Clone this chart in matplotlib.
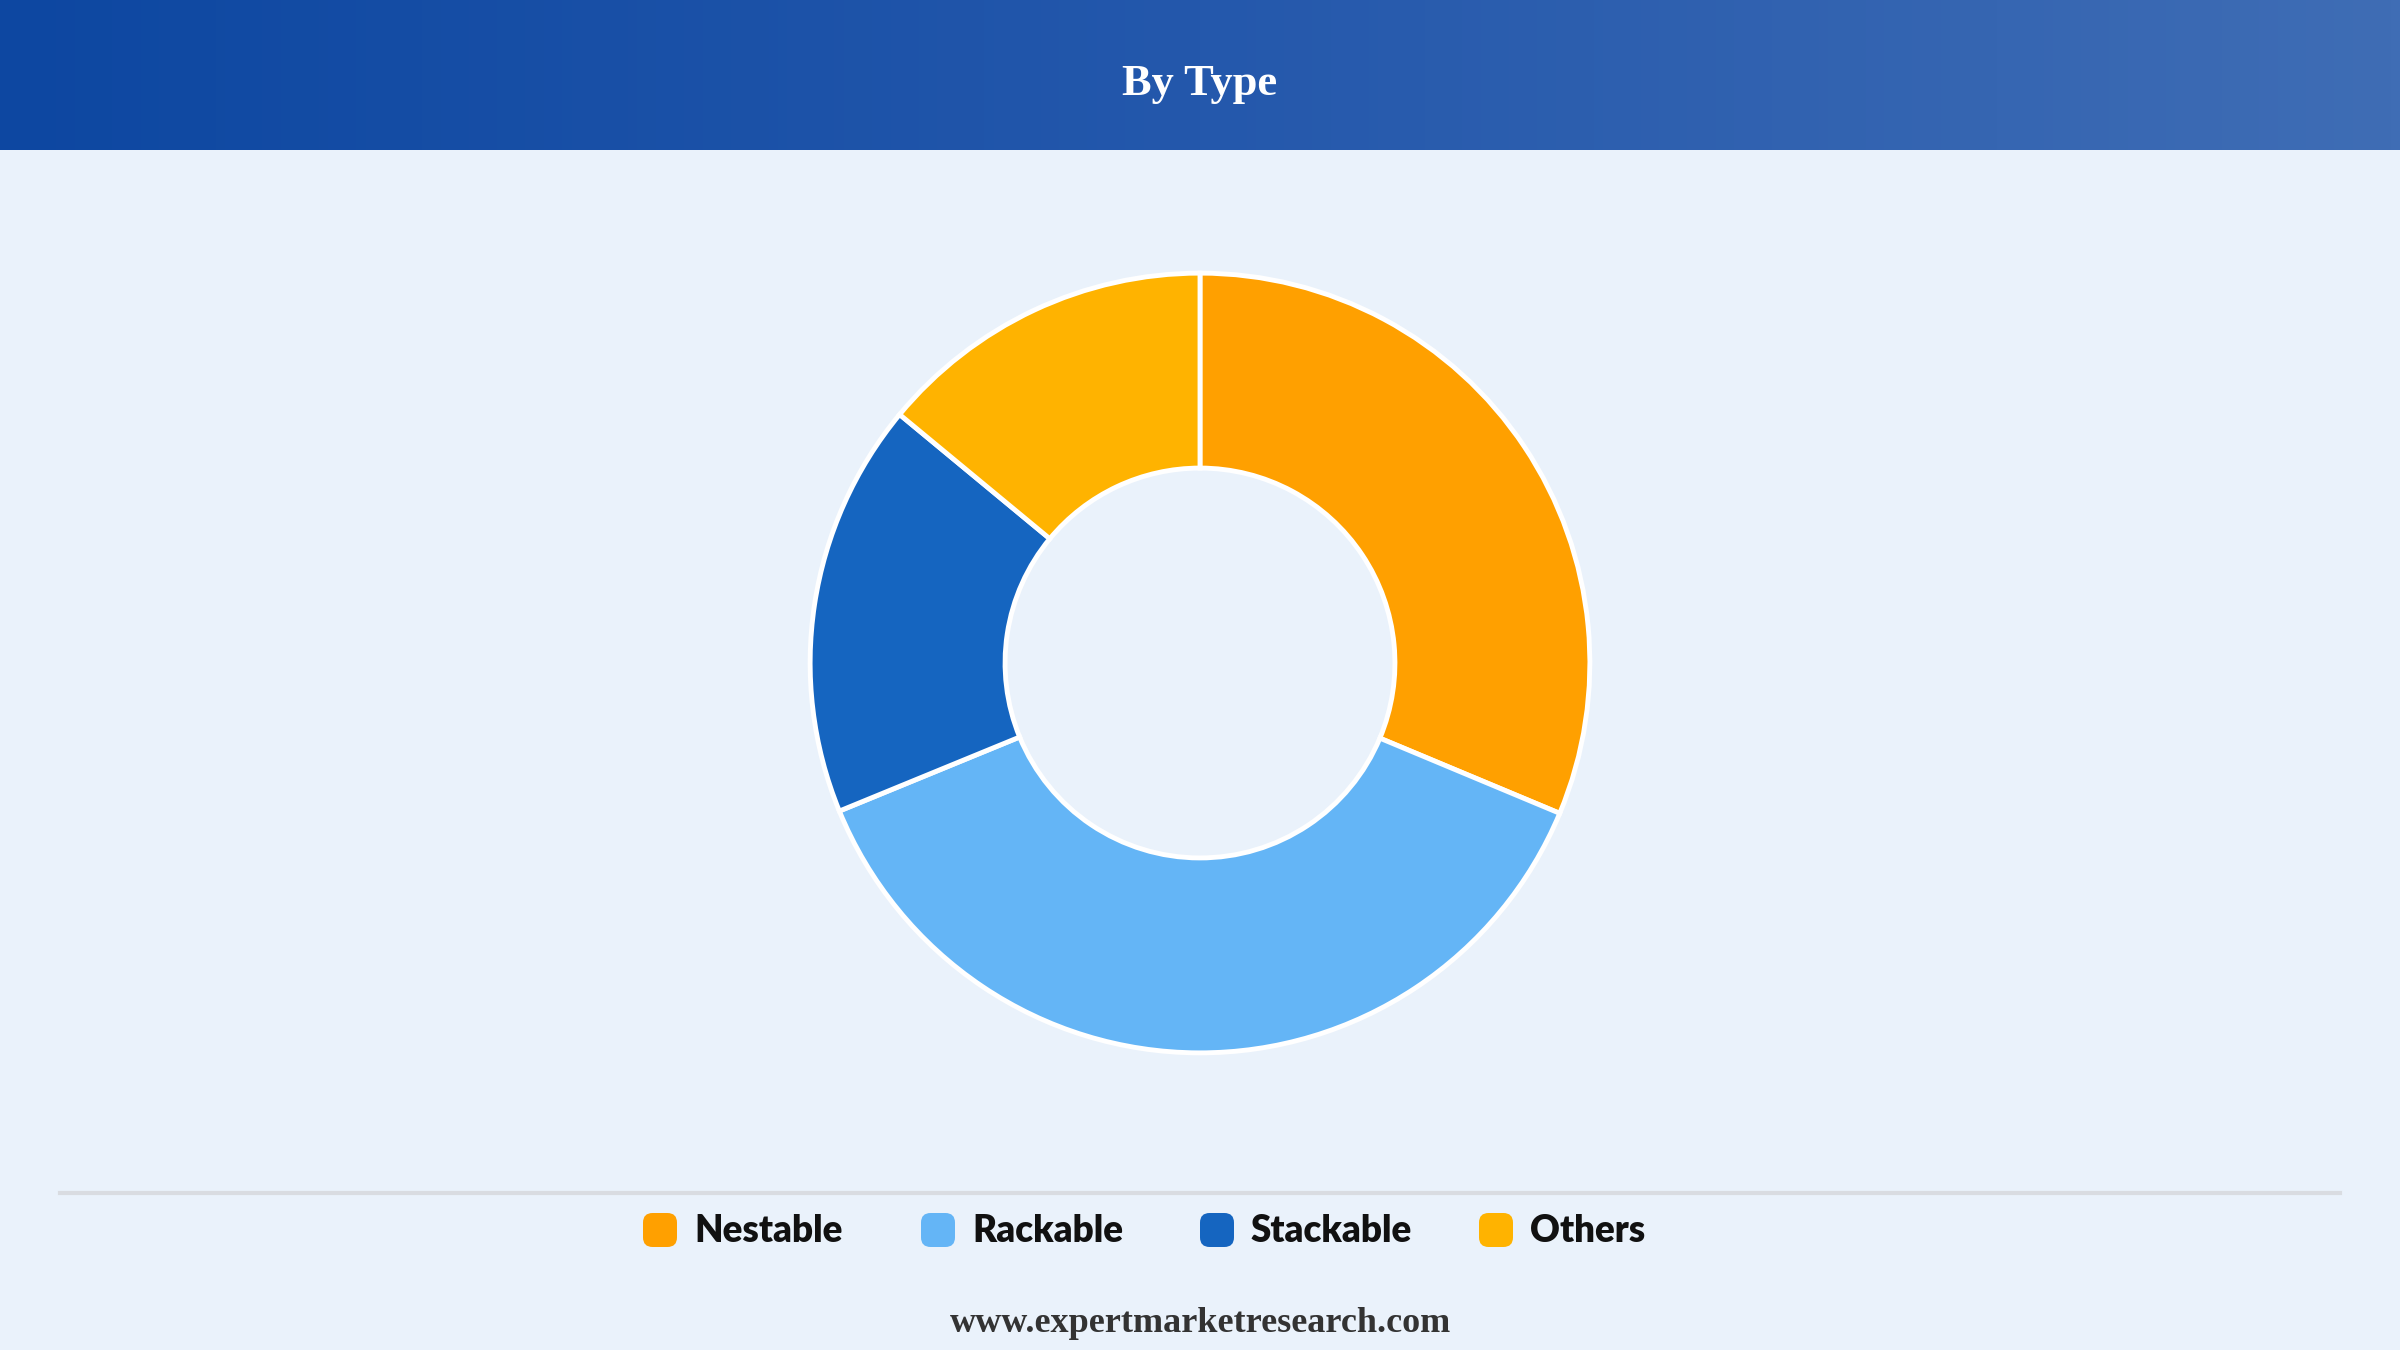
import numpy as np
import matplotlib
matplotlib.use("Agg")
import matplotlib.pyplot as plt
from matplotlib.colors import LinearSegmentedColormap
from matplotlib.patches import FancyBboxPatch
from matplotlib.lines import Line2D

categories = ["Nestable", "Rackable", "Stackable", "Others"]
values = [31.3, 37.5, 17.2, 14.0]
colors = ["#FFA000", "#64B5F6", "#1565C0", "#FFB300"]
title = "By Type"
footer = "www.expertmarketresearch.com"

W, H = 2400, 1350
fig = plt.figure(figsize=(24, 13.5), dpi=100)
fig.patch.set_facecolor("#EAF2FB")

# header gradient
hax = fig.add_axes([0, 1 - 150 / H, 1, 150 / H])
grad = np.linspace(0, 1, 512).reshape(1, -1)
cmap = LinearSegmentedColormap.from_list("hdr", ["#0D47A1", "#2458AC", "#3F6DB5"])
hax.imshow(grad, aspect="auto", cmap=cmap, extent=[0, 1, 0, 1])
hax.set_axis_off()
hax.text(0.5, 0.44, title, ha="center", va="center", color="white",
         fontsize=32, fontweight="bold", family="Liberation Serif")

# donut
R = 390
cx, cy = 1200, 663
ax = fig.add_axes([(cx - R - 10) / W, 1 - (cy + R + 10) / H, (2 * R + 20) / W, (2 * R + 20) / H])
ax.pie(values, colors=colors, startangle=90, counterclock=False,
       wedgeprops=dict(width=0.5, edgecolor="white", linewidth=3.5),
       radius=1.0)
ax.set_xlim(-1.026, 1.026)
ax.set_ylim(-1.026, 1.026)
ax.set_aspect("equal")
ax.set_axis_off()

# separator line
fig.add_artist(Line2D([60 / W, 2340 / W], [1 - 1193 / H, 1 - 1193 / H],
                      transform=fig.transFigure, color="#D9DCE1", linewidth=3))

# legend
lx = [643, 921, 1200, 1479]
ly = 1230
for x, c, lab in zip(lx, colors, categories):
    fig.add_artist(FancyBboxPatch(((x) / W, 1 - (ly + 17) / H), 34 / W, 34 / H,
                                  boxstyle="round,pad=0,rounding_size=0.004",
                                  transform=fig.transFigure, facecolor=c, edgecolor="none",
                                  mutation_aspect=W / H))
    fig.text((x + 51) / W, 1 - (ly + 1) / H, lab, ha="left", va="center",
             fontsize=26.5, fontweight="heavy", family="Lato", color="#111111")

fig.text(0.5, 1 - 1323 / H, footer, ha="center", va="center", fontsize=26,
         fontweight="bold", family="Liberation Serif", color="#333333")

fig.savefig("out.png", dpi=100, facecolor=fig.get_facecolor())
